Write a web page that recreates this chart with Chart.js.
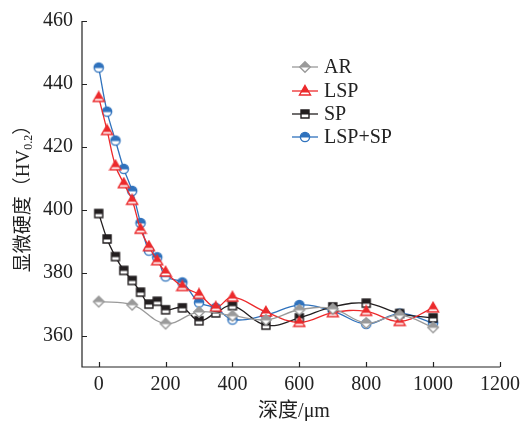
<!DOCTYPE html>
<html>
<head>
<meta charset="utf-8">
<script src="https://cdn.jsdelivr.net/npm/chart.js@4/dist/chart.umd.min.js"></script>
<style>
	html, body { margin: 0; padding: 0; background: #fff; }
	#wrap { width: 527px; height: 421px; }
</style>
</head>
<body>
<div id="wrap"><canvas id="hvChart" width="527" height="421"></canvas></div>
<script>
// Datos
const seriesNames = ['AR', 'LSP', 'SP', 'LSP+SP'];
const depthAR = [0, 100, 200, 300, 400, 500, 600, 700, 800, 900, 1000];
const hardnessAR = [370.8, 369.8, 363.8, 367.5, 366.3, 365.0, 368.2, 368.5, 364.0, 366.5, 362.6];
const depthTreated = [0, 25, 50, 75, 100, 125, 150, 175, 200, 250, 300, 350, 400, 500, 600, 700, 800, 900, 1000];
const hardnessLSP = [435.7, 425.2, 414.0, 408.3, 403.0, 393.8, 388.3, 383.8, 380.2, 375.6, 373.1, 369.0, 372.2, 367.5, 364.2, 367.3, 367.7, 364.5, 368.8];
const hardnessSP = [398.8, 390.7, 385.1, 380.7, 377.5, 373.8, 370.0, 370.9, 368.2, 368.8, 364.7, 367.2, 369.5, 363.3, 365.6, 369.1, 370.3, 367.0, 365.6];
const hardnessLSPSP = [445.2, 431.2, 422.0, 413.0, 406.0, 395.8, 387.0, 384.9, 378.8, 376.9, 370.5, 368.8, 365.1, 366.5, 369.7, 367.8, 363.7, 367.0, 364.0];
const xTicks = [0, 200, 400, 600, 800, 1000, 1200];
const yTicks = [360, 380, 400, 420, 440, 460];

const serif = '"Liberation Serif", "Noto Sans CJK SC", serif';
const colors = ['#9a9a9a', '#ec2a2c', '#231f20', '#2f72bd'];
const shapes = ['diamond', 'triangle', 'square', 'circle'];

document.addEventListener('DOMContentLoaded', function() {
	// Marcador "half up": mitad superior rellena, mitad inferior blanca
	function makeMarker(shape, color) {
		const s = 14, c = s / 2;
		const cv = document.createElement('canvas');
		cv.width = s; cv.height = s;
		const g = cv.getContext('2d');
		function path() {
			g.beginPath();
			if (shape === 'circle') {
				g.arc(c, c, 4.6, 0, Math.PI * 2);
			} else if (shape === 'square') {
				g.rect(c - 4, c - 4, 8, 8);
			} else if (shape === 'triangle') {
				g.moveTo(c, c - 5.5);
				g.lineTo(c + 5.5, c + 4);
				g.lineTo(c - 5.5, c + 4);
				g.closePath();
			} else {
				g.moveTo(c, c - 5.3);
				g.lineTo(c + 5.3, c);
				g.lineTo(c, c + 5.3);
				g.lineTo(c - 5.3, c);
				g.closePath();
			}
		}
		path();
		g.fillStyle = '#fff';
		g.fill();
		g.save();
		g.beginPath();
		g.rect(0, 0, s, c + (shape === 'triangle' ? 1.5 : 0.5));
		g.clip();
		path();
		g.fillStyle = color;
		g.fill();
		g.restore();
		path();
		g.lineWidth = 1.4;
		g.strokeStyle = color;
		g.stroke();
		return cv;
	}

	const markers = shapes.map((sh, i) => makeMarker(sh, colors[i]));

	function toPoints(xs, ys) {
		return xs.map((x, i) => ({ x: x, y: ys[i] }));
	}

	const seriesData = [
		toPoints(depthAR, hardnessAR),
		toPoints(depthTreated, hardnessLSP),
		toPoints(depthTreated, hardnessSP),
		toPoints(depthTreated, hardnessLSPSP)
	];

	// Ejes, ticks hacia dentro, títulos y leyenda
	const decorPlugin = {
		id: 'decor',
		afterDraw(chart) {
			const ctx = chart.ctx;
			const xs = chart.scales.x, ys = chart.scales.y;
			const area = chart.chartArea;
			ctx.save();
			ctx.strokeStyle = '#222';
			ctx.lineWidth = 1.2;
			ctx.beginPath();
			ctx.moveTo(area.left, area.top);
			ctx.lineTo(area.left, area.bottom);
			ctx.lineTo(area.right, area.bottom);
			yTicks.forEach(v => {
				const py = Math.round(ys.getPixelForValue(v)) + 0.5;
				ctx.moveTo(area.left, py);
				ctx.lineTo(area.left + 5, py);
			});
			xTicks.forEach(v => {
				const px = Math.round(xs.getPixelForValue(v)) + 0.5;
				ctx.moveTo(px, area.bottom);
				ctx.lineTo(px, area.bottom - 5);
			});
			ctx.stroke();

			// Título eje X
			ctx.fillStyle = '#222';
			ctx.font = '20px ' + serif;
			ctx.textAlign = 'center';
			ctx.textBaseline = 'middle';
			ctx.fillText('深度/μm', (area.left + area.right) / 2 + 3, 412);

			// Título eje Y con subíndice
			ctx.translate(24, 194);
			ctx.rotate(-Math.PI / 2);
			const big = '19px ' + serif, small = '12px ' + serif;
			const parts = [['显微硬度（HV', big, 0], ['0.2', small, 5], ['）', big, 0]];
			let total = 0;
			parts.forEach(p => { ctx.font = p[1]; total += ctx.measureText(p[0]).width; });
			let cx = -total / 2;
			ctx.textAlign = 'left';
			parts.forEach(p => {
				ctx.font = p[1];
				ctx.fillText(p[0], cx, p[2]);
				cx += ctx.measureText(p[0]).width;
			});
			ctx.restore();

			// Leyenda
			const rows = [67, 91, 114, 137];
			ctx.save();
			ctx.font = '20px ' + serif;
			ctx.textBaseline = 'middle';
			ctx.textAlign = 'left';
			seriesNames.forEach((name, i) => {
				ctx.strokeStyle = colors[i];
				ctx.lineWidth = 1.3;
				ctx.beginPath();
				ctx.moveTo(292, rows[i]);
				ctx.lineTo(318, rows[i]);
				ctx.stroke();
				ctx.drawImage(markers[i], 305 - 7, rows[i] - 7);
				ctx.fillStyle = '#222';
				ctx.fillText(name, 324, rows[i] + 1);
			});
			ctx.restore();
		}
	};

	const ctx = document.getElementById('hvChart').getContext('2d');
	new Chart(ctx, {
		type: 'line',
		data: {
			datasets: seriesNames.map((name, i) => ({
				label: name,
				data: seriesData[i],
				borderColor: colors[i],
				borderWidth: 1.3,
				tension: 0.4,
				fill: false,
				pointStyle: markers[i],
				pointRadius: 5,
				pointHoverRadius: 5
			}))
		},
		options: {
			responsive: false,
			animation: false,
			layout: { padding: { left: 0, top: 20, right: 27, bottom: 0 } },
			plugins: {
				legend: { display: false },
				tooltip: { enabled: false }
			},
			scales: {
				x: {
					type: 'linear',
					min: -50,
					max: 1200,
					grid: { display: false, drawTicks: false },
					border: { display: false },
					ticks: {
						color: '#222',
						font: { family: serif, size: 20 },
						padding: 6,
						callback: v => String(v)
					},
					afterBuildTicks(scale) { scale.ticks = xTicks.map(v => ({ value: v })); },
					afterFit(scale) { scale.height = 54; }
				},
				y: {
					min: 350,
					max: 460,
					grid: { display: false, drawTicks: false },
					border: { display: false },
					ticks: {
						color: '#222',
						font: { family: serif, size: 20 },
						padding: 9,
						callback: v => String(v)
					},
					afterBuildTicks(scale) { scale.ticks = yTicks.map(v => ({ value: v })); },
					afterFit(scale) { scale.width = 82; }
				}
			}
		},
		plugins: [decorPlugin]
	});
});
</script>
</body>
</html>
